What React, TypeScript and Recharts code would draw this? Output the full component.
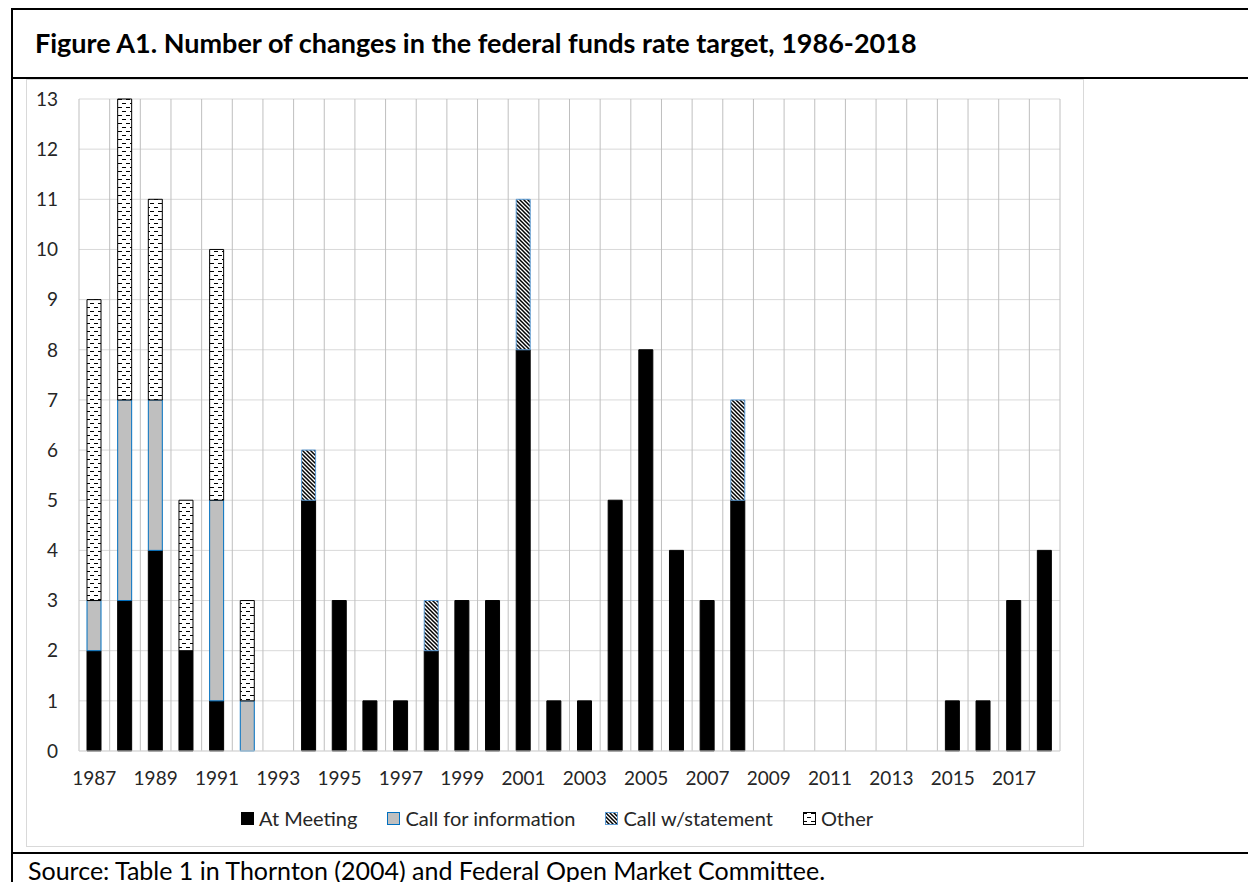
import React from 'react';
import { BarChart, Bar, XAxis, YAxis, CartesianGrid, Legend } from 'recharts';

const years = [
  '1987', '1988', '1989', '1990', '1991', '1992', '1993', '1994', '1995', '1996', '1997',
  '1998', '1999', '2000', '2001', '2002', '2003', '2004', '2005', '2006', '2007', '2008',
  '2009', '2010', '2011', '2012', '2013', '2014', '2015', '2016', '2017', '2018',
];

const atMeeting = [2, 3, 4, 2, 1, 0, 0, 5, 3, 1, 1, 2, 3, 3, 8, 1, 1, 5, 8, 4, 3, 5, 0, 0, 0, 0, 0, 0, 1, 1, 3, 4];
const callInfo = [1, 4, 3, 0, 4, 1, 0, 0, 0, 0, 0, 0, 0, 0, 0, 0, 0, 0, 0, 0, 0, 0, 0, 0, 0, 0, 0, 0, 0, 0, 0, 0];
const callStatement = [0, 0, 0, 0, 0, 0, 0, 1, 0, 0, 0, 1, 0, 0, 3, 0, 0, 0, 0, 0, 0, 2, 0, 0, 0, 0, 0, 0, 0, 0, 0, 0];
const other = [6, 6, 4, 3, 5, 2, 0, 0, 0, 0, 0, 0, 0, 0, 0, 0, 0, 0, 0, 0, 0, 0, 0, 0, 0, 0, 0, 0, 0, 0, 0, 0];

const yTicks = [0, 1, 2, 3, 4, 5, 6, 7, 8, 9, 10, 11, 12, 13];

const data = years.map((year, i) => ({
  year,
  atMeeting: atMeeting[i],
  callInfo: callInfo[i],
  callStatement: callStatement[i],
  other: other[i],
}));

const series = [
  { key: 'atMeeting', label: 'At Meeting', fill: '#000000', stroke: '#000000' },
  { key: 'callInfo', label: 'Call for information', fill: '#bfbfbf', stroke: '#0070c0' },
  { key: 'callStatement', label: 'Call w/statement', fill: 'url(#hatchStatement)', stroke: '#5b9bd5' },
  { key: 'other', label: 'Other', fill: 'url(#dashOther)', stroke: '#000000' },
];

const FONT = 'Lato, "Open Sans", sans-serif';

function LegendContent() {
  return (
    <div style={{ display: 'flex', justifyContent: 'center', alignItems: 'center', height: 24, paddingLeft: 28, fontSize: 20, color: '#262626', fontFamily: FONT }}>
      {series.map((s, i) => (
        <span key={s.key} style={{ display: 'flex', alignItems: 'center', marginLeft: i === 0 ? 0 : 30 }}>
          <svg width={13} height={13} style={{ display: 'block' }}>
            <rect x={0.5} y={0.5} width={12} height={12} fill={s.fill} stroke={s.stroke} />
          </svg>
          <span style={{ marginLeft: 5 }}>{s.label}</span>
        </span>
      ))}
    </div>
  );
}

// vertical grid lines sit between categories, like Excel's default
const betweenCategories = ({ offset }: any) => {
  const step = offset.width / years.length;
  return Array.from({ length: years.length + 1 }, (_, i) => offset.left + i * step);
};

const hLine = (top: number) => ({
  position: 'absolute' as const, left: 11, top, width: 1237, height: 2, background: '#000',
});

export default function App() {
  return (
    <div style={{ position: 'absolute', left: 0, top: 0, width: 1248, height: 882, background: '#fff', fontFamily: FONT, overflow: 'hidden' }}>
      <div style={hLine(8)} />
      <div style={hLine(77)} />
      <div style={hLine(852)} />
      <div style={{ position: 'absolute', left: 11, top: 8, width: 2, height: 874, background: '#000' }} />

      <div style={{ position: 'absolute', left: 35, top: 29, fontSize: 27, lineHeight: '27px', fontWeight: 700, color: '#000', whiteSpace: 'nowrap' }}>
        Figure A1. Number of changes in the federal funds rate target, 1986-2018
      </div>

      <div style={{ position: 'absolute', left: 26, top: 79, width: 1056, height: 766, border: '1px solid #d9d9d9' }} />

      <div style={{ position: 'absolute', left: 26, top: 78 }}>
        <BarChart width={1057} height={768} data={data} barSize={14} margin={{ top: 21, right: 23, left: 0, bottom: 16 }}>
          <defs>
            <pattern id="hatchStatement" patternUnits="userSpaceOnUse" width={4} height={4}>
              <rect width={4} height={4} fill="#ffffff" />
              <path d="M-1,-1 L5,5 M-1,3 L1,5 M3,-1 L5,1" stroke="#000" strokeWidth={1.5} />
            </pattern>
            <pattern id="dashOther" patternUnits="userSpaceOnUse" width={8} height={8}>
              <rect width={8} height={8} fill="#ffffff" />
              <path d="M0,1.5 H4 M4,5.5 H8" stroke="#000" strokeWidth={1.2} />
            </pattern>
          </defs>
          <CartesianGrid vertical={false} stroke="#d9d9d9" />
          <CartesianGrid horizontal={false} stroke="#bfbfbf" verticalCoordinatesGenerator={betweenCategories} />
          <XAxis
            dataKey="year"
            interval={1}
            height={55}
            tickSize={0}
            tickMargin={21}
            axisLine={{ stroke: '#d9d9d9' }}
            tick={{ fontSize: 19, fill: '#262626', fontFamily: FONT }}
          />
          <YAxis
            domain={[0, 13]}
            ticks={yTicks}
            interval={0}
            width={53}
            tickSize={0}
            tickMargin={21}
            axisLine={false}
            tick={{ fontSize: 19, fill: '#262626', fontFamily: FONT }}
          />
          <Legend verticalAlign="bottom" content={<LegendContent />} />
          {series.map((s) => (
            <Bar
              key={s.key}
              dataKey={s.key}
              name={s.label}
              stackId="changes"
              fill={s.fill}
              stroke={s.stroke}
              strokeWidth={1}
              isAnimationActive={false}
            />
          ))}
        </BarChart>
      </div>

      <div style={{ position: 'absolute', left: 28, top: 858, fontSize: 25, lineHeight: '25px', color: '#000', whiteSpace: 'nowrap' }}>
        Source: Table 1 in Thornton (2004) and Federal Open Market Committee.
      </div>
    </div>
  );
}
